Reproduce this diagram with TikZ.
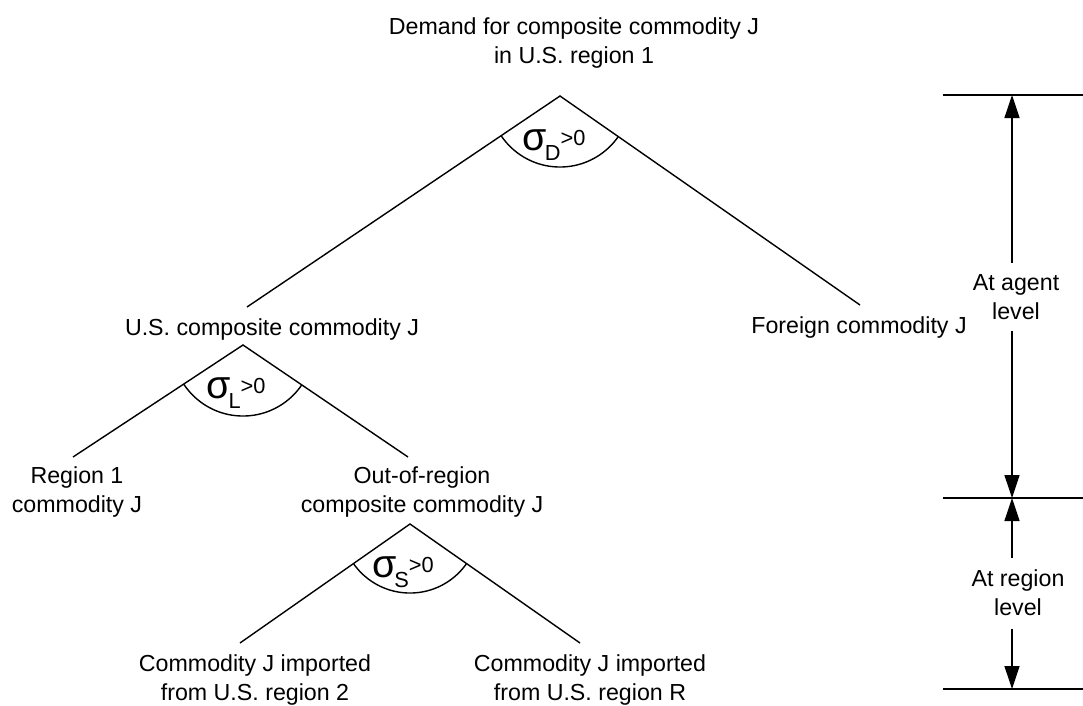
\documentclass[tikz,border=0pt]{standalone}
\usepackage{fontspec}
\setmainfont{Liberation Sans}
\usetikzlibrary{arrows.meta}
\tikzset{
    txt/.style={align=center, anchor=base, inner sep=0pt,
        font=\fontsize{16.5}{20.5}\selectfont},
    sig/.style={anchor=base, inner sep=0pt},
    ast/.style={line width=1pt},
    dim/.style={line width=1pt, -{Triangle[length=5.75mm,width=3.75mm]}},
}
% Substitutionselastizitaet
\newcommand{\siglabel}[1]{{\fontsize{28}{28}\selectfont σ}\kern-1.5pt%
    \raisebox{-7.5pt}{\fontsize{15.5}{15.5}\selectfont #1}%
    \raisebox{3pt}{\fontsize{15.5}{15.5}\selectfont >0}}

\begin{document}
\begin{tikzpicture}[x=0.025cm, y=-0.025cm]
        \useasboundingbox (0,0) rectangle (1083,705);
        % Verzweigungen
        \coordinate (aD) at (560,96);
        \coordinate (aL) at (243,345);
        \coordinate (aS) at (410,524);
        \coordinate (lD) at (247,307);
        \coordinate (rD) at (860,305);
        \coordinate (lL) at (73,457);
        \coordinate (rL) at (408,457);
        \coordinate (lS) at (240,643);
        \coordinate (rS) at (580,643);
        \draw[ast]
        (lD) -- (aD) -- (rD)
        (lL) -- (aL) -- (rL)
        (lS) -- (aS) -- (rS)
        ;
        % Boegen
        \begin{scope}
        \clip (aD) -- (lD) -- (rD) -- cycle;
        \draw[ast] (aD) circle (1.775cm);
        \end{scope}
        \begin{scope}
        \clip (aL) -- (lL) -- (rL) -- cycle;
        \draw[ast] (aL) circle (1.775cm);
        \end{scope}
        \begin{scope}
        \clip (aS) -- (lS) -- (rS) -- cycle;
        \draw[ast] (aS) circle (1.725cm);
        \end{scope}
        \node[sig] (sD) at ([shift={(-6,54)}]aD) {\siglabel{D}};
        \node[sig] (sL) at ([shift={(-7,53)}]aL) {\siglabel{L}};
        \node[sig] (sS) at ([shift={(-7,53)}]aS) {\siglabel{S}};
        % Guetergruppen
        \node[txt] (demand) at (574,63) {Demand for composite commodity J\\in U.S. region 1};
        \node[txt] (uscomp) at (272,335) {U.S. composite commodity J};
        \node[txt] (foreign) at (859,333) {Foreign commodity J};
        \node[txt] (reg1) at (77,512) {Region 1\\commodity J};
        \node[txt] (outreg) at (422,512) {Out-of-region\\composite commodity J};
        \node[txt] (imp2) at (255,700) {Commodity J imported\\from U.S. region 2};
        \node[txt] (impR) at (590,700) {Commodity J imported\\from U.S. region R};
        % Ebenen
        \coordinate (tA) at (1012,95);
        \coordinate (tM) at (1012,498);
        \coordinate (tB) at (1012,689);
        \draw[ast]
        (943,95) -- (1083,95)
        (943,498) -- (1083,498)
        (943,689) -- (1083,689)
        ;
        \node[txt] (agent) at (1016,319) {At agent\\level};
        \node[txt] (region) at (1018,615) {At region\\level};
        \draw[dim, shorten <=2.75mm] (agent.north -| tA) -- (tA);
        \draw[dim, shorten <=2.75mm] (agent.south -| tA) -- (tM);
        \draw[dim, shorten <=2.75mm] (region.north -| tA) -- (tM);
        \draw[dim, shorten <=3.25mm] (region.south -| tA) -- (tB);
    \end{tikzpicture}
\end{document}
